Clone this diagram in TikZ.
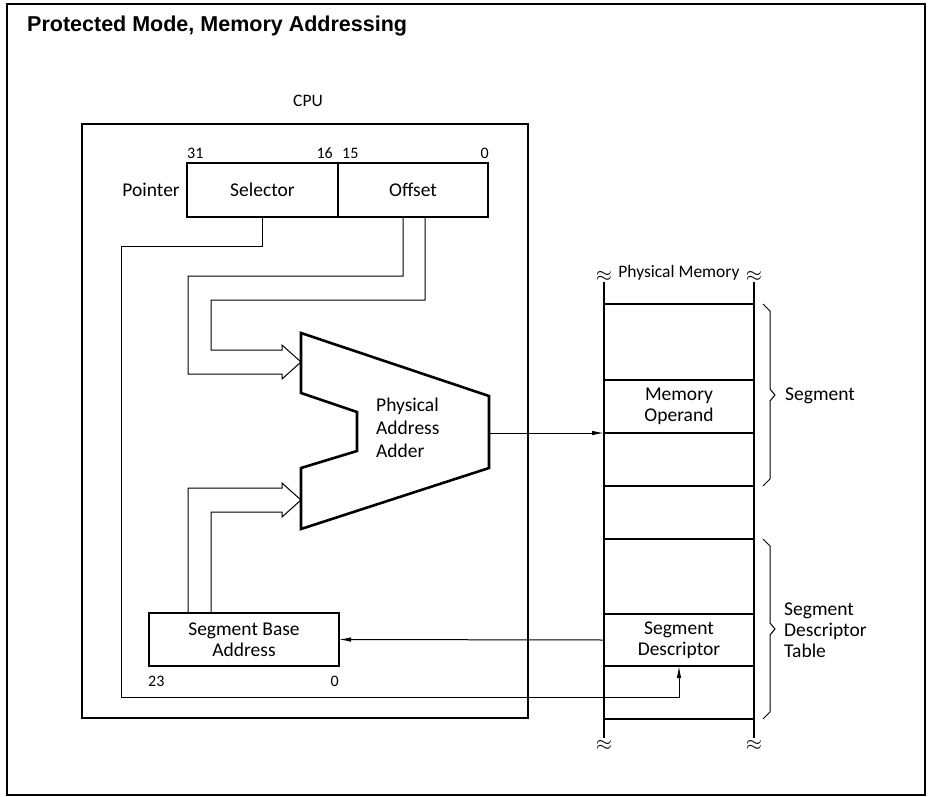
\documentclass[tikz,border=0pt]{standalone}
\usepackage{fontspec}
\setmainfont{Carlito}
\newfontfamily\titlefont{Liberation Sans}
\usetikzlibrary{arrows.meta}
\begin{document}
\begin{tikzpicture}[x=1pt,y=-1pt,
  lbl/.style={font=\fontsize{19.5}{21}\selectfont, inner sep=0pt},
  num/.style={font=\fontsize{16}{18}\selectfont, inner sep=0pt},
  regbox/.style={draw, line width=2pt, inner sep=0pt, outer sep=0pt,
                 font=\fontsize{19.5}{21}\selectfont, align=center},
  cell/.style={regbox},
  conn/.style={line width=1pt, line join=miter},
  tip/.style={-{Latex[length=12pt,width=4.5pt]}},
  thickline/.style={line width=2.6pt, line join=miter},
  cellline/.style={line width=2pt},
  brace/.style={line width=1pt},
  brk/.style={inner sep=0pt, font=\fontsize{20}{20}\selectfont}
]
\useasboundingbox (0,0) rectangle (931,797);
% outer frame
\draw[line width=1.3pt] (7,4) rectangle (925,795);
\node[anchor=base west, inner sep=0pt, font=\titlefont\bfseries\fontsize{21.5}{24}\selectfont] (title) at (27,32) {Protected Mode, Memory Addressing};

% CPU
\node[lbl, font=\fontsize{17.5}{19}\selectfont] (cpulbl) at (308,101) {CPU};
\draw[thickline] (82,124) rectangle (528,718);

% pointer register
\node[regbox, minimum width=151pt, minimum height=54pt] (sel) at (262.5,190) {Selector};
\node[regbox, minimum width=150pt, minimum height=54pt] (off) at (413,190) {Offset};
\node[lbl, anchor=east] (ptr) at (180,190) {Pointer};
\node[num, anchor=base west] (n31) at (187,158) {31};
\node[num, anchor=base east] (n16) at (333,158) {16};
\node[num, anchor=base west] (n15) at (342,158) {15};
\node[num, anchor=base east] (n0a) at (489,158) {0};

% segment base address
\node[regbox, minimum width=190pt, minimum height=53pt] (base) at (244,639.5) {Segment Base\\Address};
\node[num, anchor=base west] (n23) at (148,686) {23};
\node[num, anchor=base east] (n0b) at (339,686) {0};

% adder
\draw[thickline] (301,333) -- (489,396) -- (489,468) -- (301,529) -- (301,468)
  -- (357,451) -- (357,412) -- (301,393) -- cycle;
\node[lbl, align=left, anchor=west, font=\fontsize{19.5}{23}\selectfont] (adder) at (376,428) {Physical\\Address\\Adder};
\coordinate (addout) at (489,433);
\coordinate (in1) at (301,362);
\coordinate (in2) at (301,500);

% buses with hollow arrows
\coordinate (o1) at (403,217);
\coordinate (o2) at (425,217);
\coordinate (b1) at (188,613);
\coordinate (b2) at (211,613);
\draw[conn] (o1) -- (403,276) -- (188,276) -- (188,374) -- (282,374) -- (282,379)
  -- (in1) -- (282,345) -- (282,350) -- (211,350) -- (211,300) -- (425,300) -- (o2);
\draw[conn] (b1) -- (188,488) -- (282,488) -- (282,483) -- (in2) -- (282,517)
  -- (282,512) -- (211,512) -- (b2);

% physical memory
\node[cell, minimum width=150pt, minimum height=53pt] (memop) at (679,406.5) {Memory\\Operand};
\node[cell, minimum width=150pt, minimum height=52pt] (desc) at (679,640) {Segment\\Descriptor};
\draw[cellline] (604,304) -- (754,304);
\draw[cellline] (604,486) -- (754,486);
\draw[cellline] (604,539) -- (754,539);
\draw[cellline] (604,719) -- (754,719);
\draw[thickline] (604,282) -- (604,738);
\draw[thickline] (754,282) -- (754,738);
\node[brk] (bk1) at (604,276) {$\approx$};
\node[brk] (bk2) at (754,276) {$\approx$};
\node[brk] (bk3) at (604,745) {$\approx$};
\node[brk] (bk4) at (754,745) {$\approx$};
\node[lbl, font=\fontsize{17.5}{19}\selectfont] (pm) at (679,273) {Physical Memory};

% braces
\draw[brace] (763,304) -- (770,311) -- (770,389) -- (775,395) -- (770,401) -- (770,479) -- (763,486);
\draw[brace] (763,539) -- (770,546) -- (770,623) -- (775,629) -- (770,635) -- (770,712) -- (763,719);
\node[lbl, anchor=west] (seglbl) at (785,396) {Segment};
\node[lbl, anchor=west, align=left] (sdtlbl) at (784,630) {Segment\\Descriptor\\Table};

% connectors
\draw[conn, tip] (addout) -- (memop.south west);
\draw[conn, tip] (desc.west) -- (base.east);
\draw[conn, tip] (sel.south) -- ++(0,29) -| (121,697) -| (desc.south);
\end{tikzpicture}
\end{document}
